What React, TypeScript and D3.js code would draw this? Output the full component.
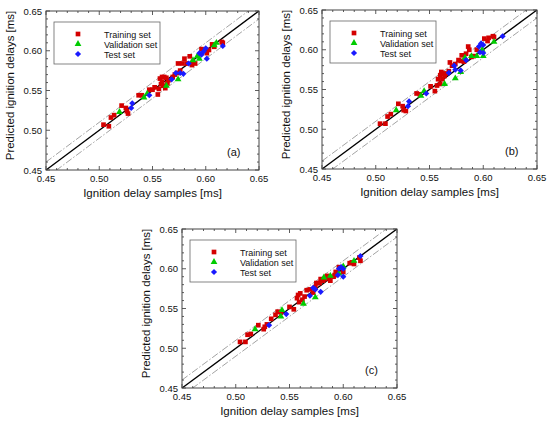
import React from 'react';
import * as d3 from 'd3';

type Pt = [number, number];

// [sample, predicted] in ms
const trainA: Pt[] = [
  [0.504, 0.507], [0.509, 0.505], [0.511, 0.516], [0.514, 0.519], [0.521, 0.531],
  [0.525, 0.528], [0.526, 0.524], [0.527, 0.521], [0.537, 0.544], [0.540, 0.544],
  [0.547, 0.551], [0.550, 0.551], [0.552, 0.554], [0.555, 0.545], [0.557, 0.565],
  [0.559, 0.567], [0.561, 0.567], [0.563, 0.566], [0.565, 0.563], [0.559, 0.561],
  [0.558, 0.558], [0.560, 0.556], [0.562, 0.553], [0.564, 0.559], [0.556, 0.552],
  [0.569, 0.567], [0.573, 0.572], [0.576, 0.575], [0.574, 0.584], [0.580, 0.590],
  [0.578, 0.584], [0.582, 0.584], [0.585, 0.593], [0.588, 0.586], [0.590, 0.584],
  [0.587, 0.582], [0.596, 0.602], [0.598, 0.601], [0.601, 0.597], [0.603, 0.601],
  [0.606, 0.608], [0.608, 0.605], [0.615, 0.611], [0.616, 0.610], [0.571, 0.570],
];
const validA: Pt[] = [
  [0.519, 0.523], [0.545, 0.546], [0.542, 0.541], [0.563, 0.556], [0.574, 0.564],
  [0.588, 0.588], [0.594, 0.590], [0.592, 0.593], [0.610, 0.610], [0.608, 0.607],
];
const testA: Pt[] = [
  [0.531, 0.534], [0.530, 0.528], [0.547, 0.544], [0.568, 0.564], [0.572, 0.572],
  [0.576, 0.572], [0.579, 0.571], [0.584, 0.584], [0.594, 0.597], [0.596, 0.595],
  [0.598, 0.599], [0.600, 0.603], [0.601, 0.590], [0.616, 0.606],
];

const trainB: Pt[] = [
  [0.504, 0.507], [0.509, 0.507], [0.511, 0.516], [0.514, 0.519], [0.521, 0.532],
  [0.525, 0.529], [0.526, 0.524], [0.528, 0.523], [0.538, 0.545], [0.541, 0.544],
  [0.551, 0.554], [0.555, 0.548], [0.557, 0.555], [0.558, 0.563], [0.560, 0.568],
  [0.561, 0.572], [0.563, 0.570], [0.562, 0.563], [0.560, 0.557], [0.564, 0.567],
  [0.565, 0.570], [0.569, 0.584], [0.568, 0.573], [0.574, 0.582], [0.577, 0.587],
  [0.579, 0.586], [0.580, 0.593], [0.584, 0.595], [0.586, 0.604], [0.587, 0.600],
  [0.589, 0.591], [0.591, 0.592], [0.594, 0.600], [0.601, 0.614], [0.605, 0.615],
  [0.609, 0.617], [0.610, 0.616], [0.604, 0.611], [0.582, 0.585], [0.571, 0.580],
];
const validB: Pt[] = [
  [0.519, 0.524], [0.545, 0.548], [0.542, 0.542], [0.564, 0.557], [0.574, 0.564],
  [0.579, 0.572], [0.583, 0.590], [0.589, 0.592], [0.594, 0.592], [0.600, 0.592],
  [0.610, 0.610], [0.599, 0.600],
];
const testB: Pt[] = [
  [0.531, 0.535], [0.530, 0.529], [0.547, 0.545], [0.568, 0.571], [0.573, 0.580],
  [0.574, 0.575], [0.579, 0.574], [0.584, 0.587], [0.596, 0.604], [0.598, 0.608],
  [0.600, 0.606], [0.597, 0.597], [0.600, 0.596], [0.618, 0.617],
];

const trainC: Pt[] = [
  [0.504, 0.508], [0.509, 0.508], [0.511, 0.517], [0.514, 0.518], [0.521, 0.529],
  [0.526, 0.524], [0.527, 0.527], [0.529, 0.530], [0.533, 0.537], [0.537, 0.542],
  [0.539, 0.546], [0.542, 0.545], [0.550, 0.552], [0.554, 0.549], [0.557, 0.563],
  [0.558, 0.567], [0.560, 0.569], [0.562, 0.561], [0.559, 0.558], [0.564, 0.565],
  [0.566, 0.573], [0.569, 0.574], [0.572, 0.570], [0.574, 0.577], [0.575, 0.582],
  [0.578, 0.582], [0.579, 0.587], [0.581, 0.585], [0.583, 0.587], [0.585, 0.591],
  [0.586, 0.588], [0.588, 0.585], [0.591, 0.590], [0.592, 0.592], [0.596, 0.602],
  [0.593, 0.596], [0.600, 0.596], [0.606, 0.607], [0.608, 0.608], [0.610, 0.606],
  [0.615, 0.614], [0.616, 0.610],
];
const validC: Pt[] = [
  [0.518, 0.524], [0.543, 0.548], [0.542, 0.540], [0.563, 0.556], [0.574, 0.564],
  [0.582, 0.589], [0.588, 0.591], [0.596, 0.594], [0.600, 0.603], [0.610, 0.610],
];
const testC: Pt[] = [
  [0.531, 0.529], [0.547, 0.543], [0.569, 0.566], [0.572, 0.576], [0.574, 0.574],
  [0.579, 0.571], [0.596, 0.600], [0.598, 0.602], [0.600, 0.600], [0.595, 0.592],
  [0.600, 0.590], [0.616, 0.616],
];

const domain: [number, number] = [0.45, 0.65];
const bandOffset = 0.01;
const seriesNames = ['Training set', 'Validation set', 'Test set'];
const seriesColors = ['#d40000', '#00cc00', '#1a1aff'];
const xLabel = 'Ignition delay samples [ms]';
const yLabel = 'Predicted ignition delays [ms]';

const FONT = '"Liberation Sans", Arial, sans-serif';
const symbolTypes = [d3.symbolSquare, d3.symbolTriangle, d3.symbolSquare];
const symbolSizes = [22, 20, 19];
const symbolRotate = [0, 0, 45]; // diamond = rotated square

interface PanelProps {
  left: number;
  top: number;
  width: number;
  height: number;
  tag: string;
  series: Pt[][];
}

function Panel({ left, top, width, height, tag, series }: PanelProps) {
  const x = d3.scaleLinear().domain(domain).range([0, width]);
  const y = d3.scaleLinear().domain(domain).range([height, 0]);
  const major = x.ticks(4);
  const minor = x.ticks(20);
  const fmt = d3.format('.2f');

  const line = d3.line<number>().x(d => x(d)).y(d => y(d));
  // dash-dot band lines at +/- bandOffset
  const upper = d3.line<number>().x(d => x(d)).y(d => y(d + bandOffset));
  const lower = d3.line<number>().x(d => x(d)).y(d => y(d - bandOffset));

  const symbols = symbolTypes.map((t, i) => d3.symbol().type(t).size(symbolSizes[i])()!);

  return (
    <g transform={`translate(${left},${top})`} fontFamily={FONT}>
      <defs>
        <clipPath id={`clip-${tag}`}>
          <rect width={width} height={height} />
        </clipPath>
      </defs>
      <rect width={width} height={height} fill="#fff" />
      <g clipPath={`url(#clip-${tag})`}>
        <path d={upper(domain)!} stroke="#8a8a8a" strokeWidth={0.8}
          strokeDasharray="7,2,1.5,2" fill="none" />
        <path d={lower(domain)!} stroke="#8a8a8a" strokeWidth={0.8}
          strokeDasharray="7,2,1.5,2" fill="none" />
        <path d={line(domain)!} stroke="#000" strokeWidth={1.4} fill="none" />
        {series.map((pts, si) => (
          <g key={si} fill={seriesColors[si]}>
            {pts.map((p, i) => (
              <path key={i} d={symbols[si]}
                transform={`translate(${x(p[0])},${y(p[1])}) rotate(${symbolRotate[si]})`} />
            ))}
          </g>
        ))}
      </g>
      {/* ticks on all four sides, pointing inward */}
      <g stroke="#333" strokeWidth={0.8}>
        {minor.map((t, i) => {
          const len = major.some(m => Math.abs(m - t) < 1e-9) ? 4 : 2;
          return (
            <g key={i}>
              <line x1={x(t)} x2={x(t)} y1={height} y2={height - len} />
              <line x1={x(t)} x2={x(t)} y1={0} y2={len} />
              <line y1={y(t)} y2={y(t)} x1={0} x2={len} />
              <line y1={y(t)} y2={y(t)} x1={width} x2={width - len} />
            </g>
          );
        })}
      </g>
      <rect width={width} height={height} fill="none" stroke="#444" strokeWidth={1} />
      <g fontSize={9.5} fill="#111">
        {major.map((t, i) => (
          <text key={`x${i}`} x={x(t)} y={height + 12} textAnchor="middle">{fmt(t)}</text>
        ))}
        {major.map((t, i) => (
          <text key={`y${i}`} x={-4} y={y(t) + 3.5} textAnchor="end">{fmt(t)}</text>
        ))}
      </g>
      <text x={width / 2} y={height + 27} textAnchor="middle" fontSize={11.5} fill="#111">{xLabel}</text>
      <text transform={`translate(-32,${height / 2 - 5}) rotate(-90)`} textAnchor="middle"
        fontSize={11.5} fill="#111">{yLabel}</text>
      <text x={width - 32} y={height - 14} fontSize={11} fill="#111">({tag})</text>
      {/* legend */}
      <g transform="translate(8,11)">
        <rect width={106} height={42} fill="#fff" stroke="#666" strokeWidth={0.8} />
        {seriesNames.map((name, i) => (
          <g key={name} transform={`translate(0,${12 + i * 10})`}>
            <path d={symbols[i]} transform={`translate(24,0) rotate(${symbolRotate[i]})`}
              fill={seriesColors[i]} />
            <text x={50} y={3.5} fontSize={9} fill="#111">{name}</text>
          </g>
        ))}
      </g>
    </g>
  );
}

export default function App() {
  return (
    <svg width={550} height={422} style={{ position: 'absolute', left: 0, top: 0, background: '#fff' }}>
      <Panel left={46} top={11} width={213} height={159} tag="a" series={[trainA, validA, testA]} />
      <Panel left={322} top={10} width={215} height={159} tag="b" series={[trainB, validB, testB]} />
      <Panel left={182} top={229} width={215} height={159} tag="c" series={[trainC, validC, testC]} />
    </svg>
  );
}
